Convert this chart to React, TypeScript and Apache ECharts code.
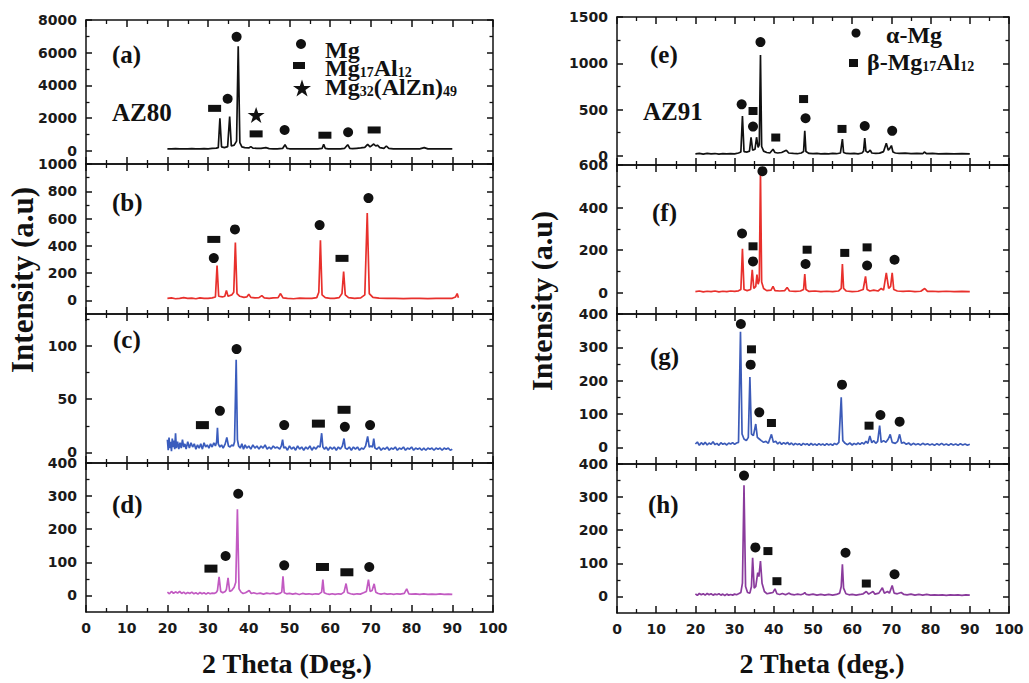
import React, { useEffect, useRef } from "react";
import * as echarts from "echarts";

// ---------- DATA ----------
const xTickValues = [0, 10, 20, 30, 40, 50, 60, 70, 80, 90, 100];

// (a) AZ80 – black
const seriesA: number[][] = [[20,130],[21,120],[22,140],[23,125],[24,130],[25,120],[26,135],[27,125],[28,130],[29,140],[30,130],[31,150],[32,170],[32.5,200],[32.9,2000],[33.3,250],[34,200],[34.8,260],[35.3,2100],[35.7,300],[36.4,350],[37.0,600],[37.4,6400],[37.8,500],[38.3,250],[39,200],[40,180],[40.5,260],[41,170],[42,160],[43,150],[44.2,200],[45,140],[46,130],[47,130],[48.3,150],[48.9,380],[49.4,150],[50,130],[51,125],[52,130],[53,120],[54,125],[55,130],[56,125],[57,130],[58,150],[58.4,400],[58.8,150],[59.5,130],[60.5,120],[61.5,130],[62.5,125],[63.5,150],[64.3,380],[64.8,160],[65.5,140],[66.5,160],[67.5,180],[68.5,220],[69.2,400],[69.8,250],[70.7,420],[71.2,300],[71.6,350],[72.2,200],[73.2,160],[73.8,300],[74.4,160],[75.5,130],[77,125],[78.5,130],[80,120],[82,125],[83.1,200],[84,125],[86,120],[88,125],[90,120]];
const circlesA = [[34.8,3190],[37.0,6970],[48.8,1280],[64.4,1140]];
const squaresA = [[31.6,2600],[41.8,1040],[58.7,960],[70.8,1280]];
const starsA = [[41.8,2200]];
const ticksA = [0, 2000, 4000, 6000, 8000];
const minorA = [1000, 3000, 5000, 7000];

// (b) red
const seriesB: number[][] = [[20,15],[21,18],[22,12],[23,15],[24,20],[25,14],[26,16],[27,12],[28,18],[29,15],[30,14],[31,18],[31.8,25],[32.2,255],[32.6,30],[33.5,25],[34.1,30],[34.5,72],[34.9,30],[35.8,40],[36.3,60],[36.7,425],[37.1,50],[37.8,30],[38.8,22],[39.5,25],[40,45],[40.5,22],[41.5,18],[42.5,20],[43.2,35],[43.8,18],[45,15],[46,18],[47.2,20],[47.8,50],[48.4,18],[49.5,15],[51,12],[52.5,16],[54,14],[55.5,15],[56.7,20],[57.2,60],[57.6,440],[58,40],[58.8,20],[60,15],[61,14],[62.2,20],[62.9,50],[63.3,212],[63.7,40],[64.5,20],[66,15],[67.5,18],[68.5,40],[69.1,640],[69.6,50],[70.5,22],[72,16],[74,14],[76,15],[78,13],[80,15],[82,14],[84,13],[86,15],[88,14],[90,15],[90.8,25],[91.2,50],[91.5,20]];
const circlesB = [[31.4,310],[36.6,520],[57.4,552],[69.4,750]];
const squaresB = [[31.4,447],[62.9,308]];
const ticksB = [0, 200, 400, 600, 800, 1000];
const minorB = [100, 300, 500, 700, 900];

// (c) blue
const seriesC: number[][] = [[20,12],[20.2,2],[20.4,14],[20.6,4],[20.8,10],[21,1],[21.2,13],[21.4,5],[21.6,11],[21.8,3],[22.0,18],[22.2,4],[22.5,10],[22.8,3],[23.1,9],[23.4,4],[23.7,12],[24,5],[24.3,8],[24.6,3],[25,10],[25.4,4],[25.8,9],[26.2,5],[26.6,8],[27,3],[27.4,7],[27.8,4],[28.2,8],[28.6,3],[29,9],[29.4,5],[29.8,7],[30.2,4],[30.6,8],[31,5],[31.4,9],[31.8,6],[32.1,10],[32.3,23],[32.5,8],[32.9,5],[33.3,7],[33.7,4],[34.2,8],[34.6,14],[35,6],[35.4,5],[35.8,7],[36.2,6],[36.5,10],[36.9,87],[37.2,12],[37.5,6],[37.9,4],[38.3,8],[38.7,3],[39.1,7],[39.5,4],[40,6],[40.5,3],[41,7],[41.5,4],[42,6],[42.5,3],[43,6],[43.5,4],[44,7],[44.5,3],[45,5],[45.5,3],[46,6],[46.5,4],[47,5],[47.6,3],[48,6],[48.3,12],[48.6,4],[49,5],[49.5,2],[50,6],[50.5,3],[51,5],[51.5,2],[52,6],[52.5,3],[53,5],[53.5,2],[54,5],[54.5,3],[55,6],[55.5,2],[56,5],[56.5,3],[57,6],[57.5,5],[57.9,18],[58.2,5],[58.6,3],[59,5],[59.5,2],[60,5],[60.5,3],[61,5],[61.5,2],[62,5],[62.5,3],[63,6],[63.4,13],[63.7,4],[64.2,3],[64.7,5],[65.2,2],[65.7,5],[66.2,3],[66.7,5],[67.2,2],[67.7,4],[68.2,3],[68.7,6],[69.2,15],[69.6,5],[70,6],[70.4,5],[70.7,13],[71,4],[71.5,3],[72,5],[72.5,2],[73,4],[73.5,3],[74,5],[74.5,2],[75,4],[75.5,3],[76,5],[76.5,2],[77,4],[77.5,3],[78,5],[78.5,2],[79,4],[79.5,3],[80,5],[80.5,2],[81,4],[81.5,3],[82,4],[82.5,2],[83,4],[83.5,2],[84,4],[84.5,3],[85,4],[85.5,2],[86,4],[86.5,3],[87,4],[87.5,2],[88,4],[88.5,3],[89,4],[89.5,2],[90,3]];
const circlesC = [[32.9,39],[37.0,97],[48.7,25.6],[63.6,24],[69.8,25.6]];
const squaresC = [[28.6,25.6],[57.1,27],[63.4,40]];
const ticksC = [0, 50, 100];
const minorC = [25, 75, 125];

// (d) magenta
const seriesD: number[][] = [[20,10],[20.5,5],[21,12],[21.5,6],[22,11],[22.5,7],[23,12],[23.5,6],[24,10],[24.5,5],[25,9],[25.5,6],[26,10],[26.5,5],[27,8],[27.5,4],[28,9],[28.5,5],[29,8],[29.5,4],[30,8],[30.5,5],[31,7],[31.5,6],[32,9],[32.3,15],[32.7,56],[33.1,12],[33.6,8],[34.2,12],[34.5,18],[34.9,53],[35.3,12],[35.8,15],[36.4,25],[36.8,40],[37.2,260],[37.6,20],[38.1,10],[38.6,6],[39.2,8],[40.1,15],[40.6,6],[41.2,8],[42,5],[42.8,7],[43.6,4],[44.4,7],[45.2,5],[46,7],[46.8,4],[47.6,6],[48.1,10],[48.4,58],[48.7,8],[49.3,5],[50,6],[50.8,4],[51.6,6],[52.4,3],[53.2,6],[54,4],[54.8,5],[55.6,3],[56.4,5],[57.2,4],[57.9,10],[58.2,48],[58.5,8],[59.1,5],[59.8,3],[60.5,5],[61.2,3],[62,5],[62.7,4],[63.4,10],[63.9,36],[64.3,8],[65,5],[65.8,3],[66.6,5],[67.4,4],[68.2,8],[68.9,12],[69.4,48],[69.8,12],[70.3,15],[70.8,35],[71.2,10],[71.8,6],[72.5,4],[73.2,6],[74,4],[74.8,5],[75.6,3],[76.4,5],[77.2,4],[78.2,6],[78.8,20],[79.3,5],[80,4],[81,5],[82,3],[83,5],[84,3],[85,4],[86,3],[87,5],[88,3],[89,4],[90,3]];
const circlesD = [[34.3,119],[37.4,307],[48.7,91],[69.6,86]];
const squaresD = [[30.7,81],[58.1,86],[64.1,70]];
const ticksD = [0, 100, 200, 300, 400];
const minorD = [50, 150, 250, 350];

// (e) AZ91 – black
const seriesE: number[][] = [[20,20],[21,25],[22,18],[23,25],[24,20],[25,24],[26,18],[27,22],[28,20],[29,24],[30,20],[31,30],[31.6,40],[32.0,430],[32.4,45],[33.2,40],[33.8,50],[34.2,200],[34.6,60],[35.2,70],[35.6,200],[36.0,90],[36.3,120],[36.6,1090],[36.9,100],[37.4,50],[38.2,35],[39,30],[39.8,70],[40.3,35],[41,30],[42,35],[43.2,60],[43.8,30],[45,25],[46,22],[47,30],[47.6,45],[47.9,270],[48.2,45],[49,25],[50,22],[51,25],[52,20],[53,24],[54,20],[55,25],[56,22],[57,30],[57.5,180],[57.8,35],[58.5,25],[59.5,22],[60.5,25],[61.5,20],[62.5,30],[62.9,50],[63.2,190],[63.5,50],[64,35],[64.6,60],[65,30],[66,25],[67,28],[68,45],[68.7,136],[69.2,60],[69.6,80],[70.0,110],[70.4,40],[71,30],[72,25],[73.5,28],[75,22],[76.5,25],[78,22],[78.4,40],[79,22],[80.5,25],[82,20],[84,24],[86,20],[88,22],[90,20]];
const circlesE = [[31.8,556],[34.7,315],[36.6,1229],[48.1,405],[63.2,322],[70.2,269]];
const squaresE = [[34.7,484],[40.5,197],[47.6,613],[57.4,290]];
const ticksE = [0, 500, 1000, 1500];
const minorE = [250, 750, 1250];

// (f) red
const seriesF: number[][] = [[20,5],[21,8],[22,4],[23,7],[24,5],[25,8],[26,4],[27,7],[28,5],[29,8],[30,6],[31,9],[31.6,15],[32.0,206],[32.4,15],[33.2,10],[34.1,15],[34.5,108],[34.9,20],[35.4,30],[35.7,85],[36.0,40],[36.3,60],[36.6,570],[36.9,50],[37.4,20],[38.2,10],[39.3,12],[39.8,30],[40.3,10],[41.5,8],[42.8,10],[43.4,25],[44,8],[45.5,6],[46.8,8],[47.6,15],[47.9,88],[48.2,15],[49,6],[50.5,8],[52,5],[53.5,7],[55,5],[56.5,8],[57.2,20],[57.5,135],[57.8,20],[58.5,8],[60,5],[61.5,7],[62.8,15],[63.4,77],[63.8,15],[64.5,8],[65.5,12],[66.6,8],[67.4,20],[68,12],[68.7,93],[69.3,20],[69.8,30],[70.2,93],[70.6,15],[71.5,8],[73,6],[74.5,8],[76,5],[77.5,7],[78.5,20],[79.2,6],[80.5,7],[82,5],[84,7],[86,5],[88,6],[90,5]];
const circlesF = [[31.9,278],[34.7,147],[37.1,571],[48.1,135],[63.8,128],[70.8,155]];
const squaresF = [[34.7,218],[48.5,202],[58.1,187],[63.8,213]];
const ticksF = [0, 200, 400, 600];
const minorF = [100, 300, 500];

// (g) blue
const seriesG: number[][] = [[20,10],[20.5,16],[21,6],[21.5,14],[22,8],[22.5,15],[23,7],[23.5,13],[24,9],[24.5,17],[25,8],[25.5,12],[26,6],[26.5,14],[27,9],[27.5,12],[28,7],[28.5,13],[29,10],[29.5,14],[30,9],[30.5,13],[31,15],[31.5,347],[31.9,40],[32.4,25],[33,20],[33.5,30],[33.9,211],[34.3,40],[34.8,35],[35.4,70],[35.8,30],[36.3,25],[36.8,20],[37.4,15],[38,18],[38.6,12],[39.4,39],[39.9,15],[40.5,18],[41,10],[41.5,16],[42,9],[42.5,14],[43,10],[43.5,15],[44,8],[44.5,13],[45,7],[45.5,12],[46,8],[46.5,11],[47,6],[47.5,12],[48,8],[48.5,11],[49,6],[49.5,12],[50,7],[50.5,10],[51,6],[51.5,11],[52,7],[52.5,10],[53,6],[53.5,11],[54,7],[54.5,10],[55,6],[55.5,12],[56,8],[56.6,15],[57.2,150],[57.6,20],[58.2,12],[58.8,8],[59.4,13],[60,7],[60.5,12],[61,8],[61.5,13],[62,9],[62.5,14],[63,10],[63.5,18],[64,12],[64.5,34],[65,14],[65.5,20],[66,12],[66.5,18],[67.0,65],[67.4,15],[68,20],[68.6,15],[69.2,25],[69.7,39],[70.2,15],[71,12],[71.6,18],[72.1,39],[72.6,12],[73.2,15],[73.8,9],[74.4,13],[75,7],[75.6,12],[76.2,8],[76.8,11],[77.4,7],[78,12],[78.6,8],[79.2,11],[79.8,7],[80.4,10],[81,6],[81.6,11],[82.2,7],[82.8,12],[83.4,7],[84,10],[84.6,6],[85.2,11],[85.8,7],[86.4,10],[87,6],[87.6,11],[88.2,7],[88.8,10],[89.4,6],[90,9]];
const circlesG = [[31.6,370],[34.1,248],[36.3,105],[57.4,188],[67.2,97],[72.1,77]];
const squaresG = [[34.3,294],[39.4,73],[64.3,65]];
const ticksG = [0, 100, 200, 300, 400];
const minorG = [50, 150, 250, 350];

// (h) purple
const seriesH: number[][] = [[20,8],[20.5,3],[21,9],[21.5,5],[22,8],[22.5,4],[23,9],[23.5,5],[24,8],[24.5,4],[25,7],[25.5,5],[26,8],[26.5,4],[27,7],[27.5,3],[28,7],[28.5,4],[29,6],[29.5,4],[30,7],[30.5,5],[31,8],[31.6,12],[32.0,40],[32.4,336],[32.8,30],[33.3,12],[33.9,10],[34.3,30],[34.6,117],[35.0,25],[35.4,30],[35.9,72],[36.2,60],[36.6,107],[37.0,40],[37.6,15],[38.3,8],[39,10],[39.8,12],[40.3,23],[40.8,8],[41.5,6],[42.2,9],[43,5],[43.8,10],[44.5,6],[45.3,5],[46.1,7],[46.9,5],[47.6,8],[47.9,12],[48.3,6],[49,5],[50,7],[51,4],[52,6],[53,4],[54,6],[55,4],[56,6],[56.8,10],[57.2,30],[57.5,97],[57.8,25],[58.4,8],[59.2,5],[60,6],[61,4],[62,6],[62.8,8],[63.6,15],[64.2,7],[65.3,15],[65.8,7],[66.8,10],[67.7,26],[68.2,10],[69.0,15],[69.5,10],[70.2,33],[70.7,10],[71.5,8],[72.5,12],[73.2,6],[74,5],[75,7],[76,4],[77,6],[78,4],[79,6],[80,4],[81,5],[82,4],[83,5],[84,3],[85,5],[86,4],[87,5],[88,3],[89,5],[90,4]];
const circlesH = [[32.4,365],[35.3,148],[58.3,132],[70.8,67]];
const squaresH = [[38.5,137],[40.8,46],[63.6,39]];
const ticksH = [0, 100, 200, 300, 400];
const minorH = [50, 150, 250, 350];

// ---------- STYLE ----------
const SERIF = "'Liberation Serif', 'Times New Roman', serif";
const SANS = "'DejaVu Sans', sans-serif";
const INK = "#111111";
const STAR = "M12 0 L14.9 8.6 L24 8.6 L16.6 13.9 L19.4 22.6 L12 17.3 L4.6 22.6 L7.4 13.9 L0 8.6 L9.1 8.6 Z";
echarts.graphic.registerShape("legendStar", echarts.graphic.extendPath(STAR, {}));

type Panel = {
  data: number[][]; circles: number[][]; squares: number[][]; stars?: number[][];
  color: string; min: number; max: number; major: number[]; minor: number[];
  left: number; width: number; top: number; height: number; showX: boolean;
  sq: number[]; circ: number;
};

const L = { left: 86, width: 407 };
const R = { left: 617, width: 392 };

const panels: Panel[] = [
  { data: seriesA, circles: circlesA, squares: squaresA, stars: starsA, color: "#111111", min: -800, max: 8000, major: ticksA, minor: minorA, ...L, top: 20, height: 144, showX: false, sq: [13, 7], circ: 10 },
  { data: seriesB, circles: circlesB, squares: squaresB, color: "#e8302c", min: -100, max: 1000, major: ticksB, minor: minorB, ...L, top: 164, height: 150, showX: false, sq: [13, 7], circ: 10 },
  { data: seriesC, circles: circlesC, squares: squaresC, color: "#3a5cbd", min: -10, max: 130, major: ticksC, minor: minorC, ...L, top: 314, height: 149, showX: false, sq: [13, 8], circ: 10 },
  { data: seriesD, circles: circlesD, squares: squaresD, color: "#c25ac2", min: -50, max: 400, major: ticksD, minor: minorD, ...L, top: 463, height: 149, showX: true, sq: [13, 8], circ: 10 },
  { data: seriesE, circles: circlesE, squares: squaresE, color: "#111111", min: -100, max: 1500, major: ticksE, minor: minorE, ...R, top: 17, height: 148, showX: false, sq: [9, 8], circ: 10 },
  { data: seriesF, circles: circlesF, squares: squaresF, color: "#e8302c", min: -100, max: 600, major: ticksF, minor: minorF, ...R, top: 165, height: 149, showX: false, sq: [9, 8], circ: 10 },
  { data: seriesG, circles: circlesG, squares: squaresG, color: "#3c5bb8", min: -50, max: 400, major: ticksG, minor: minorG, ...R, top: 314, height: 150, showX: false, sq: [9, 8], circ: 10 },
  { data: seriesH, circles: circlesH, squares: squaresH, color: "#8a3b9c", min: -50, max: 400, major: ticksH, minor: minorH, ...R, top: 464, height: 149, showX: true, sq: [9, 8], circ: 10 },
];

const axisLineStyle = { color: INK, width: 1.5 };
const plainNumber = (v: number) => String(v);
const tickLabel = { fontFamily: SANS, fontWeight: "bold" as const, fontSize: 14, color: "#1a1a1a", formatter: plainNumber };

const rich = {
  m: { fontFamily: SERIF, fontWeight: "bold", fontSize: 24, lineHeight: 19, verticalAlign: "bottom", fill: INK },
  s: { fontFamily: SERIF, fontWeight: "bold", fontSize: 14, lineHeight: 12, verticalAlign: "bottom", fill: INK },
};

function serifText(text: string, x: number, y: number, size = 25, extra: any = {}) {
  return {
    type: "text", x, y, silent: true,
    style: { text, fontFamily: SERIF, fontWeight: "bold", fontSize: size, fill: INK, align: "left", verticalAlign: "middle", ...extra },
  };
}

function buildOption() {
  const grid: any[] = [];
  const xAxis: any[] = [];
  const yAxis: any[] = [];
  const series: any[] = [];
  panels.forEach((p, i) => {
    grid.push({ left: p.left, top: p.top, width: p.width, height: p.height, containLabel: false });
    ["bottom", "top"].forEach((pos) => {
      xAxis.push({
        gridIndex: i, type: "value", min: 0, max: 100, interval: 10, position: pos,
        axisLine: { show: true, onZero: false, lineStyle: axisLineStyle },
        axisTick: { show: true, inside: true, length: 7, lineStyle: axisLineStyle },
        minorTick: { show: true, splitNumber: 2, length: 4, lineStyle: { color: INK, width: 1.3 } },
        axisLabel: { show: pos === "bottom" && p.showX, margin: 9, ...tickLabel, customValues: xTickValues },
        splitLine: { show: false }, minorSplitLine: { show: false },
      });
    });
    ["left", "right"].forEach((pos) => {
      yAxis.push({
        gridIndex: i, type: "value", min: p.min, max: p.max, position: pos,
        axisLine: { show: true, onZero: false, lineStyle: axisLineStyle },
        axisTick: { show: true, inside: true, length: 6, customValues: p.major, lineStyle: axisLineStyle },
        axisLabel: { show: pos === "left", margin: 9, customValues: p.major, ...tickLabel },
        splitLine: { show: false },
      });
    });
    ["left", "right"].forEach((pos) => {
      yAxis.push({
        gridIndex: i, type: "value", min: p.min, max: p.max, position: pos,
        axisLine: { show: false, onZero: false },
        axisTick: { show: true, inside: true, length: 3.5, customValues: p.minor, lineStyle: { color: INK, width: 1.3 } },
        axisLabel: { show: false, customValues: p.minor },
        splitLine: { show: false },
      });
    });
    const xi = 2 * i;
    const yi = 4 * i;
    series.push({
      type: "line", xAxisIndex: xi, yAxisIndex: yi, data: p.data, showSymbol: false, symbol: "none",
      lineStyle: { color: p.color, width: 1.7 }, silent: true, z: 2,
    });
    series.push({
      type: "scatter", xAxisIndex: xi, yAxisIndex: yi, data: p.circles, symbol: "circle", symbolSize: p.circ,
      itemStyle: { color: INK, opacity: 1 }, silent: true, z: 3,
    });
    series.push({
      type: "scatter", xAxisIndex: xi, yAxisIndex: yi, data: p.squares, symbol: "rect", symbolSize: p.sq,
      itemStyle: { color: INK, opacity: 1 }, silent: true, z: 3,
    });
    if (p.stars) {
      series.push({
        type: "scatter", xAxisIndex: xi, yAxisIndex: yi, data: p.stars, symbol: "path://" + STAR, symbolSize: [17, 16],
        itemStyle: { color: INK, opacity: 1 }, silent: true, z: 3,
      });
    }
  });

  const graphic: any[] = [
    // panel letters
    serifText("(a)", 112, 54), serifText("AZ80", 112, 112),
    serifText("(b)", 112, 202), serifText("(c)", 113, 339), serifText("(d)", 112, 504),
    serifText("(e)", 650, 54), serifText("AZ91", 643, 111),
    serifText("(f)", 652, 212), serifText("(g)", 650, 356), serifText("(h)", 648, 504),
    // legend (a)
    { type: "circle", shape: { cx: 301, cy: 44, r: 5 }, style: { fill: INK }, silent: true },
    { type: "rect", shape: { x: 293, y: 62, width: 12, height: 7 }, style: { fill: INK }, silent: true },
    { type: "legendStar", x: 293, y: 79.5, scaleX: 0.75, scaleY: 0.75, style: { fill: INK }, silent: true },
    serifText("Mg", 325, 50, 24),
    { type: "text", x: 325, y: 70, silent: true, style: { text: "{m|Mg}{s|17}{m|Al}{s|12}", rich, align: "left", verticalAlign: "middle", fill: INK } },
    { type: "text", x: 325, y: 89, silent: true, style: { text: "{m|Mg}{s|32}{m|(AlZn)}{s|49}", rich, align: "left", verticalAlign: "middle", fill: INK } },
    // legend (e)
    { type: "circle", shape: { cx: 856, cy: 33, r: 4.5 }, style: { fill: INK }, silent: true },
    { type: "rect", shape: { x: 849, y: 59, width: 9, height: 8 }, style: { fill: INK }, silent: true },
    serifText("α-Mg", 886, 35, 24),
    { type: "text", x: 867, y: 64, silent: true, style: { text: "{m|β-Mg}{s|17}{m|Al}{s|12}", rich, align: "left", verticalAlign: "middle", fill: INK } },
    // axis titles
    serifText("2 Theta (Deg.)", 287, 663, 28, { align: "center" }),
    serifText("2 Theta (deg.)", 822, 663, 28, { align: "center" }),
    { type: "text", x: 22, y: 280, rotation: Math.PI / 2, silent: true,
      style: { text: "Intensity (a.u)", fontFamily: SERIF, fontWeight: "bold", fontSize: 31, fill: INK, align: "center", verticalAlign: "middle" } },
    { type: "text", x: 541, y: 301, rotation: Math.PI / 2, silent: true,
      style: { text: "Intensity (a.u)", fontFamily: SERIF, fontWeight: "bold", fontSize: 30, fill: INK, align: "center", verticalAlign: "middle" } },
  ];

  return { animation: false, backgroundColor: "#ffffff", grid, xAxis, yAxis, series, graphic };
}

export default function App() {
  const ref = useRef<HTMLDivElement>(null);
  useEffect(() => {
    if (!ref.current) return;
    const chart = echarts.init(ref.current, undefined, { renderer: "svg" });
    chart.setOption(buildOption() as any);
    return () => chart.dispose();
  }, []);
  return (
    <div
      ref={ref}
      style={{ position: "fixed", left: 0, top: 0, width: 1029, height: 683, background: "#fff" }}
    />
  );
}
